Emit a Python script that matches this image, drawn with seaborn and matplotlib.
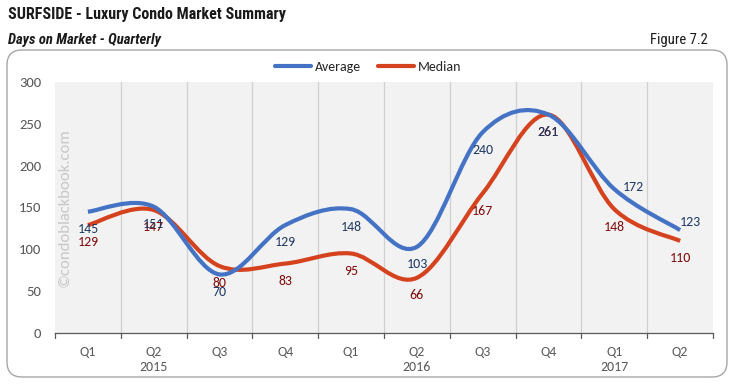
import numpy as np
import pandas as pd
import matplotlib
matplotlib.use('Agg')
import matplotlib.pyplot as plt
import seaborn as sns
from matplotlib.path import Path
from matplotlib.patches import PathPatch, FancyBboxPatch

# data
quarters = ['Q1', 'Q2', 'Q3', 'Q4', 'Q1', 'Q2', 'Q3', 'Q4', 'Q1', 'Q2']
years = ['2015', '2015', '2015', '2015', '2016', '2016', '2016', '2016', '2017', '2017']
average = [145, 151, 70, 129, 148, 103, 240, 261, 172, 123]
median = [129, 147, 80, 83, 95, 66, 167, 261, 148, 110]

series = {'Median': median, 'Average': average}
line_colors = {'Average': '#4472c4', 'Median': '#d4421e'}
label_colors = {'Average': '#1f3864', 'Median': '#7f0a0a'}
# data label offsets in points (most sit below the point, a couple to the right)
label_offsets = {('Average', 8): (14, 1.5), ('Average', 9): (7.5, 6)}

sns.set_style('white')
plt.rcParams['font.family'] = ['Carlito', 'Lato', 'DejaVu Sans']

n = len(quarters)
pos = np.arange(n) + 0.5
rows = []
for name in ['Average', 'Median']:
    for p, v in zip(pos, series[name]):
        rows.append({'pos': p, 'value': v, 'series': name})
df = pd.DataFrame(rows)

fig = plt.figure(figsize=(7.33, 3.87), dpi=100)
ax = fig.add_axes([55 / 733, 1 - 333 / 387, 658 / 733, 251 / 387])
ax.set_facecolor('#f2f2f2')

sns.lineplot(data=df, x='pos', y='value', hue='series', palette=line_colors,
             linewidth=3, ax=ax)


def smooth_path(xs, ys):
    # Excel-style smoothed line: cubic Bezier through the points
    pts = np.column_stack([xs, ys]).astype(float)
    ext = np.vstack([pts[0], pts, pts[-1]])
    verts = [tuple(pts[0])]
    codes = [Path.MOVETO]
    for i in range(len(pts) - 1):
        p0, p1, p2, p3 = ext[i], ext[i + 1], ext[i + 2], ext[i + 3]
        c1 = p1 + (p2 - p0) / 6
        c2 = p2 - (p3 - p1) / 6
        verts += [tuple(c1), tuple(c2), tuple(p2)]
        codes += [Path.CURVE4] * 3
    return Path(verts, codes)


# seaborn's straight segments are replaced by smoothed curves
for line in ax.lines:
    line.set_visible(False)
for name, vals in series.items():
    ax.add_patch(PathPatch(smooth_path(pos, vals), facecolor='none',
                           edgecolor=line_colors[name], lw=3, capstyle='butt',
                           joinstyle='round', zorder=3))
for name, vals in series.items():
    for i, (p, v) in enumerate(zip(pos, vals)):
        dx, dy = label_offsets.get((name, i), (0, -12.5))
        ax.annotate(str(v), (p, v), xytext=(dx, dy), textcoords='offset points',
                    ha='center', va='center', fontsize=10,
                    color=label_colors[name], zorder=5)

ax.set_xlim(0, n)
ax.set_ylim(0, 300)
ax.set_yticks(range(0, 301, 50))
ax.set_xticks(pos)
ax.set_xticklabels(quarters)
ax.tick_params(axis='x', length=0, pad=9, labelsize=10, labelcolor='#595959')
ax.tick_params(axis='y', length=0, pad=10, labelsize=10.5, labelcolor='#595959')
ax.set_xlabel('')
ax.set_ylabel('')

for b in range(n + 1):
    if 0 < b < n:
        ax.axvline(b, color='#d0d0d0', lw=0.9, zorder=1)
    ax.plot([b, b], [0, -0.02], transform=ax.get_xaxis_transform(),
            color='#595959', lw=0.9, clip_on=False)

for s in ['top', 'right', 'left']:
    ax.spines[s].set_visible(False)
ax.spines['bottom'].set_color('#595959')
ax.spines['bottom'].set_linewidth(0.9)

# year labels under the group
start = 0
while start < n:
    end = start
    while end < n and years[end] == years[start]:
        end += 1
    idx = start + (end - start - 1) // 2
    ax.text(pos[idx], -0.135, years[start], transform=ax.get_xaxis_transform(),
            ha='center', va='center', fontsize=10, color='#595959')
    start = end

sns.move_legend(ax, 'center', bbox_to_anchor=(0.476, 1.06), ncol=2,
                frameon=False, title=None, fontsize=10, handlelength=2.6,
                handletextpad=0.3, columnspacing=1.2)

ax.text(0.014, 0.5, '\u00a9condoblackbook.com', transform=ax.transAxes,
        rotation=90, ha='center', va='center', fontsize=12, color='#c8c8c8')

box = FancyBboxPatch((0.07, 0.10), 7.20, 3.27, boxstyle='round,pad=0,rounding_size=0.15',
                     transform=fig.dpi_scale_trans, facecolor='none',
                     edgecolor='#a6a6a6', lw=1.0)
fig.patches.append(box)

narrow = ['Roboto Condensed', 'Archivo Narrow', 'DejaVu Sans']
fig.text(8 / 733, 1 - 15 / 387, 'SURFSIDE - Luxury Condo Market Summary',
         family=narrow, fontsize=11.5, fontweight='bold', va='center', color='#1a1a1a')
fig.text(8 / 733, 1 - 40 / 387, 'Days on Market - Quarterly', family=narrow,
         fontsize=10.5, fontweight='bold', style='italic', va='center', color='#1a1a1a')
fig.text(708 / 733, 1 - 40 / 387, 'Figure 7.2', family=narrow, fontsize=10.5,
         ha='right', va='center', color='#1a1a1a')

fig.savefig('out.png', dpi=100)
